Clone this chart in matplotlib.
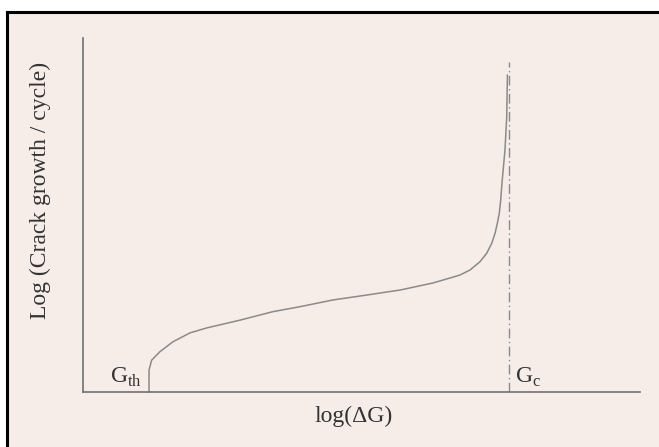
import matplotlib.pyplot as plt
from matplotlib.patches import Rectangle
from matplotlib.lines import Line2D

plt.rcParams['font.family'] = ['Liberation Serif', 'DejaVu Serif']
plt.rcParams['mathtext.fontset'] = 'custom'
plt.rcParams['mathtext.rm'] = 'Liberation Serif'

# crack growth curve (arbitrary log units)
log_dG = [1.185, 1.185, 1.233, 1.382, 1.616, 1.921, 2.221, 2.819, 3.411, 3.896,
          4.488, 5.099, 5.691, 6.284, 6.589, 6.768, 6.948, 7.127, 7.248, 7.338,
          7.397, 7.438, 7.474, 7.499, 7.522, 7.576, 7.607, 7.620]
log_rate = [0.0, 0.62, 0.90, 1.14, 1.42, 1.67, 1.81, 2.03, 2.27, 2.41,
            2.60, 2.74, 2.88, 3.08, 3.22, 3.305, 3.446, 3.68, 3.92, 4.20,
            4.48, 4.76, 5.05, 5.42, 5.90, 6.84, 7.77, 8.95]
G_th = 1.185
G_c = 7.64
Gc_top = 9.32

bg = '#f6ede9'
fig = plt.figure(figsize=(6.59, 4.47), dpi=100)
fig.patch.set_facecolor('white')

# panel background with black edge on top and left
x0, y0 = 7 / 659, 1 - 12 / 447
fig.patches.append(Rectangle((x0, 0), 1 - x0, y0, transform=fig.transFigure,
                             facecolor=bg, edgecolor='none', zorder=-5))
fig.lines.append(Line2D([x0, 1], [y0, y0], transform=fig.transFigure, color='black', lw=2.2))
fig.lines.append(Line2D([x0, x0], [0, y0], transform=fig.transFigure, color='black', lw=2.2))

ax = fig.add_axes([83 / 659, 55 / 447, 557 / 659, 354 / 447])
ax.set_zorder(2)
ax.set_facecolor('none')
ax.set_xlim(0, 10)
ax.set_ylim(0, 10)
for s in ['top', 'right']:
    ax.spines[s].set_visible(False)
for s in ['left', 'bottom']:
    ax.spines[s].set_color('#707070')
    ax.spines[s].set_linewidth(1.2)
ax.set_xticks([])
ax.set_yticks([])

ax.plot(log_dG, log_rate, color='#8a8a8a', lw=1.1, clip_on=False)
ax.plot([G_c, G_c], [0, Gc_top], color='#8a8a8a', lw=1.0, ls=(0, (7, 2.5, 1, 2.5)))

ax.text(G_th - 0.12, 0.25, r'$\mathrm{G}_{\mathrm{th}}$', fontsize=17, color='#333333',
        ha='right', va='baseline')
ax.text(G_c + 0.12, 0.25, r'$\mathrm{G}_{\mathrm{c}}$', fontsize=17, color='#333333',
        ha='left', va='baseline')

fig.text(354 / 659, 1 - 416 / 447, 'log(ΔG)', fontsize=17, color='#333333',
         ha='center', va='center')
fig.text(40 / 659, 1 - 190 / 447, 'Log (Crack growth / cycle)', fontsize=17,
         color='#333333', ha='center', va='center', rotation=90)

fig.savefig('out.png', dpi=100, facecolor=fig.get_facecolor())
